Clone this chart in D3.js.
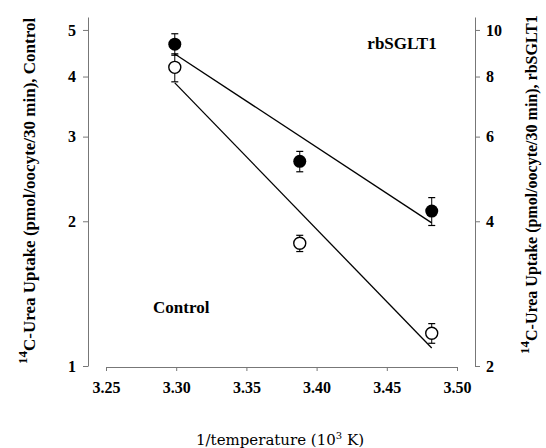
<!DOCTYPE html>
<html>
<head>
<meta charset="utf-8">
<script src="https://cdnjs.cloudflare.com/ajax/libs/d3/7.8.5/d3.min.js"></script>
<style>
  body { margin: 0; background: #fff; }
  svg text { font-family: "Liberation Serif", "Times New Roman", serif; }
</style>
</head>
<body>
<div id="chart"></div>
<script>
// 1/temperature (10^3 K) for the three temperatures
var invTemp = [3.299, 3.388, 3.482]

// control oocytes (left axis)
var controlMean = [4.18, 1.80, 1.17]
var controlErr  = [0.28, 0.07, 0.055]
// rbSGLT1 oocytes (right axis)
var sgltMean = [9.34, 5.33, 4.20]
var sgltErr  = [0.48, 0.26, 0.28]

// regression lines (end points)
var fitX       = [3.299, 3.482]
var controlFit = [3.88, 1.09]
var sgltFit    = [8.91, 3.97]

var xTicks      = [3.25, 3.30, 3.35, 3.40, 3.45, 3.50]
var yLeftTicks  = [1, 2, 3, 4, 5]
var yRightTicks = [2, 4, 6, 8, 10]

var width = 546, height = 448

var svg = d3.select("#chart").append("svg")
    .attr("width", width)
    .attr("height", height)

var x = d3.scaleLinear().domain([3.25, 3.50]).range([106, 457])
var yL = d3.scaleLog().domain([1, 5.32]).range([366, 17])
var yR = d3.scaleLog().domain([2, 10.64]).range([366, 17])

// axes
var axisColor = "#777"

var gx = svg.append("g")
    .attr("transform", "translate(0,367)")
    .call(d3.axisBottom(x).tickValues(xTicks).tickSize(4).tickSizeOuter(0).tickFormat(d3.format(".2f")))
var gl = svg.append("g")
    .attr("transform", "translate(88,0)")
    .call(d3.axisLeft(yL).tickValues(yLeftTicks).tickSize(5).tickSizeOuter(0).tickFormat(d3.format("d")))
var gr = svg.append("g")
    .attr("transform", "translate(475,0)")
    .call(d3.axisRight(yR).tickValues(yRightTicks).tickSize(5).tickSizeOuter(0).tickFormat(d3.format("d")))

;[gx, gl, gr].forEach(g => {
    g.selectAll("path, line").attr("stroke", axisColor).attr("stroke-width", 1)
    g.selectAll("text")
        .attr("fill", "#000")
        .style("font-family", "'Liberation Serif', serif")
        .style("font-weight", "bold")
        .style("font-size", "16px")
})
gx.selectAll("text").attr("dy", "1.35em").attr("y", 4)
gl.selectAll("text").attr("x", -12)
gr.selectAll("text").attr("x", 11)

// regression lines
var lineL = d3.line().x((d, i) => x(fitX[i])).y(d => yL(d))
var lineR = d3.line().x((d, i) => x(fitX[i])).y(d => yR(d))
svg.append("path").attr("d", lineR(sgltFit))
    .attr("fill", "none").attr("stroke", "#000").attr("stroke-width", 1.3)
svg.append("path").attr("d", lineL(controlFit))
    .attr("fill", "none").attr("stroke", "#000").attr("stroke-width", 1.3)

// error bars + markers
function drawSeries(mean, err, scale, filled) {
    var g = svg.append("g")
    var cap = 3.5
    mean.forEach((m, i) => {
        var cx = x(invTemp[i])
        var top = scale(m + err[i]), bot = scale(m - err[i])
        g.append("line").attr("x1", cx).attr("x2", cx).attr("y1", top).attr("y2", bot)
            .attr("stroke", "#000").attr("stroke-width", 1)
        ;[top, bot].forEach(yy => {
            g.append("line").attr("x1", cx - cap).attr("x2", cx + cap).attr("y1", yy).attr("y2", yy)
                .attr("stroke", "#000").attr("stroke-width", 1.2)
        })
        g.append("circle").attr("cx", cx).attr("cy", scale(m))
            .attr("r", filled ? 6.5 : 6)
            .attr("fill", filled ? "#000" : "#fff")
            .attr("stroke", "#000").attr("stroke-width", filled ? 0 : 1.4)
    })
}
drawSeries(controlMean, controlErr, yL, false)
drawSeries(sgltMean, sgltErr, yR, true)

// series labels
svg.append("text").attr("x", 402).attr("y", 49).attr("text-anchor", "middle")
    .style("font-weight", "bold").style("font-size", "17px").text("rbSGLT1")
svg.append("text").attr("x", 153).attr("y", 313)
    .style("font-weight", "bold").style("font-size", "17px").text("Control")

// axis titles
function yTitle(tx, ty, label, size) {
    var t = svg.append("text")
        .attr("transform", `translate(${tx},${ty}) rotate(-90)`)
        .style("font-weight", "bold").style("font-size", size + "px")
    t.append("tspan").attr("dy", -8).style("font-size", "13px").text("14")
    t.append("tspan").attr("dy", 8).text(label)
}
yTitle(35, 364, "C-Urea Uptake (pmol/oocyte/30 min), Control", 17)
yTitle(537, 354, "C-Urea Uptake (pmol/oocyte/30 min), rbSGLT1", 16)

var xt = svg.append("text").attr("x", 280).attr("y", 445).attr("text-anchor", "middle")
    .style("font-family", "'DejaVu Serif', serif").style("font-size", "15px")
xt.append("tspan").text("1/temperature (10")
xt.append("tspan").attr("dy", -6).style("font-size", "10px").text("3")
xt.append("tspan").attr("dy", 6).text(" K)")
</script>
</body>
</html>
